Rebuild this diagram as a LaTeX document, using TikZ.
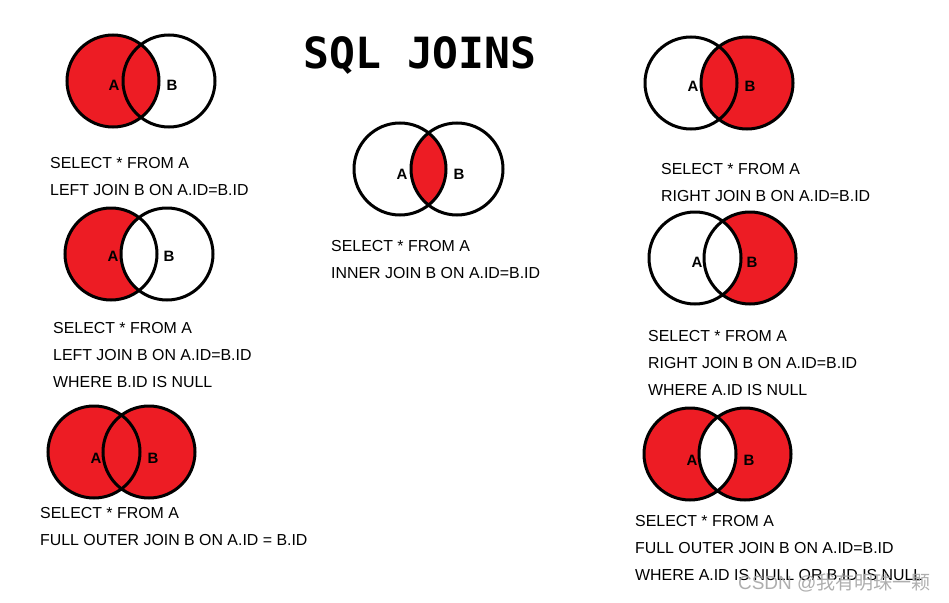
\documentclass[tikz,border=0pt]{standalone}
\usepackage{fontspec}
\setmainfont{Liberation Sans}
\newfontfamily\titlefont{DejaVu Sans Mono}
\newfontfamily\cjkfont{Noto Sans CJK SC}
\definecolor{joinred}{RGB}{237,28,36}
\tikzset{
  ring/.style={line width=3pt},
  setname/.style={inner sep=0pt,font=\bfseries\fontsize{15}{15}\selectfont},
  sqltext/.style={anchor=base west,align=left,inner sep=0pt,font=\fontsize{15.9}{27}\selectfont}
}
\begin{document}
\begin{tikzpicture}[x=1pt,y=-1pt]
    \useasboundingbox (0,0) rectangle (949,602);
    \fill[white](0,0) rectangle (949,602);
    \node[font=\titlefont\bfseries\fontsize{43}{43}\selectfont] (title) at (420,55){SQL JOINS};

    % left join
    \fill[joinred](113,81) circle (46);
    \draw[ring](113,81) circle (46) (169,81) circle (46);
    \node[setname] (ljA) at (114,85){A};
    \node[setname] (ljB) at (172,85){B};
    \node[sqltext] (ljsql) at (50,195){SELECT * FROM A\\LEFT JOIN B ON A.ID=B.ID};

    % left join without B
    \fill[joinred](111,254) circle (46);
    \begin{scope}
      \clip (111,254) circle (46);
      \fill[white](167,254) circle (46);
    \end{scope}
    \draw[ring](111,254) circle (46) (167,254) circle (46);
    \node[setname] (laA) at (113,256){A};
    \node[setname] (laB) at (169,256){B};
    \node[sqltext] (lasql) at (53,387){SELECT * FROM A\\LEFT JOIN B ON A.ID=B.ID\\WHERE B.ID IS NULL};

    % full outer join
    \fill[joinred](94,452) circle (46) (149,452) circle (46);
    \draw[ring](94,452) circle (46) (149,452) circle (46);
    \node[setname] (foA) at (96,458){A};
    \node[setname] (foB) at (153,458){B};
    \node[sqltext] (fosql) at (40,545){SELECT * FROM A\\FULL OUTER JOIN B ON A.ID = B.ID};

    % inner join
    \begin{scope}
      \clip (400,169) circle (46);
      \fill[joinred](457,169) circle (46);
    \end{scope}
    \draw[ring](400,169) circle (46) (457,169) circle (46);
    \node[setname] (ijA) at (402,174){A};
    \node[setname] (ijB) at (459,174){B};
    \node[sqltext] (ijsql) at (331,278){SELECT * FROM A\\INNER JOIN B ON A.ID=B.ID};

    % right join
    \fill[joinred](747,83) circle (46);
    \draw[ring](691,83) circle (46) (747,83) circle (46);
    \node[setname] (rjA) at (693,86){A};
    \node[setname] (rjB) at (750,86){B};
    \node[sqltext] (rjsql) at (661,201){SELECT * FROM A\\RIGHT JOIN B ON A.ID=B.ID};

    % right join without A
    \fill[joinred](750,258) circle (46);
    \begin{scope}
      \clip (750,258) circle (46);
      \fill[white](695,258) circle (46);
    \end{scope}
    \draw[ring](695,258) circle (46) (750,258) circle (46);
    \node[setname] (rbA) at (697,262){A};
    \node[setname] (rbB) at (752,262){B};
    \node[sqltext] (rbsql) at (648,395){SELECT * FROM A\\RIGHT JOIN B ON A.ID=B.ID\\WHERE A.ID IS NULL};

    % full outer join without both
    \fill[joinred,even odd rule](690,454) circle (46) (745,454) circle (46);
    \draw[ring](690,454) circle (46) (745,454) circle (46);
    \node[setname] (xoA) at (692,460){A};
    \node[setname] (xoB) at (749,460){B};
    \node[sqltext] (xosql) at (635,580){SELECT * FROM A\\FULL OUTER JOIN B ON A.ID=B.ID\\WHERE A.ID IS NULL OR B.ID IS NULL};

    \node[anchor=east,text=black!35,opacity=.9,font=\fontsize{19}{19}\selectfont] (mark) at (934,583){CSDN @{\cjkfont 我有明珠一颗}};
\end{tikzpicture}
\end{document}
